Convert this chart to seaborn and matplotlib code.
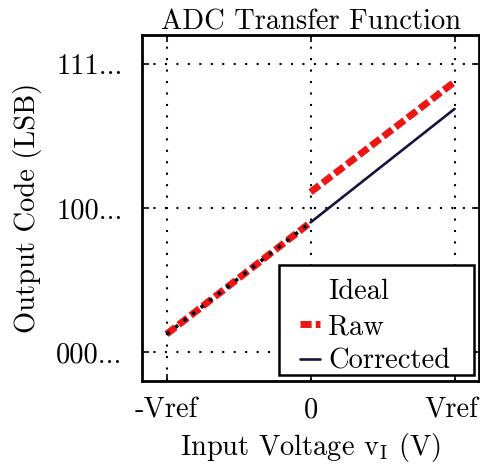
import matplotlib
matplotlib.use("Agg")
import matplotlib.pyplot as plt
import matplotlib.transforms as mtransforms
from matplotlib.patches import Rectangle
import seaborn as sns
import pandas as pd

# ---- data (normalised units: x in Vref, y in half-scale codes) ----
x_ticks = [-1, 0, 1]
x_ticklabels = ["-Vref", "0", "Vref"]
y_ticks = [-1, 0, 1]
y_ticklabels = ["000...", "100...", "111..."]

ideal_x = [-1, 0]        # visible part of the ideal line (right half lies under Corrected)
ideal_y = [-0.875, -0.10]
raw_neg_x = [-1, 0]
raw_neg_y = [-0.875, -0.10]
raw_pos_x = [0, 1]
raw_pos_y = [0.11, 0.875]
corr_x = [0, 1]          # corrected output (left half coincides with raw)
corr_y = [-0.10, 0.6875]

sns.set_theme(style="white")
plt.rcParams["font.family"] = ["cmr10", "DejaVu Serif"]
plt.rcParams["mathtext.fontset"] = "cm"
plt.rcParams["axes.formatter.use_mathtext"] = True
plt.rcParams["text.color"] = "black"
plt.rcParams["axes.labelcolor"] = "black"
plt.rcParams["xtick.color"] = "black"
plt.rcParams["ytick.color"] = "black"

FS = 20.5

fig = plt.figure(figsize=(4.8, 4.73), dpi=100)
ax = fig.add_axes([0.296, 0.1945, 0.702, 0.7315])

sns.lineplot(x=ideal_x, y=ideal_y, ax=ax, color="black", linestyle=(0, (1, 2)),
             linewidth=2.6, label="Ideal", zorder=5)
sns.lineplot(x=raw_neg_x, y=raw_neg_y, ax=ax, color="#ee1515", linestyle=(0, (1.6, 0.6)),
             linewidth=5, label="Raw", zorder=3)
sns.lineplot(x=raw_pos_x, y=raw_pos_y, ax=ax, color="#ee1515", linestyle=(0, (1.6, 0.6)),
             linewidth=5, zorder=3)
sns.lineplot(x=corr_x, y=corr_y, ax=ax, color="#14143f", linewidth=1.9,
             label="Corrected", zorder=6)

ax.set_xlim(-1.17, 1.17)
ax.set_ylim(-1.2, 1.2)
ax.set_xticks(x_ticks)
ax.set_xticklabels(x_ticklabels)
ax.set_yticks(y_ticks)
ax.set_yticklabels(y_ticklabels)
ax.tick_params(direction="in", length=5, width=1.2, color="black", labelsize=FS,
               labelcolor="black", top=True, right=True, bottom=True, left=True, pad=12)
ax.tick_params(axis="y", pad=14)
ax.grid(True, color="black", linestyle=(0, (1, 4.5)), linewidth=1.5)
for s in ax.spines.values():
    s.set_color("black")
    s.set_linewidth(2)

# nudge the right-most x tick label slightly left so it stays inside the figure
last = ax.get_xticklabels()[-1]
last.set_transform(last.get_transform() +
                   mtransforms.ScaledTranslation(-3 / 100, 0, fig.dpi_scale_trans))

ax.set_title("ADC Transfer Function", fontsize=FS, pad=4, color="black")
ax.set_xlabel(r"Input Voltage $\mathrm{v}_\mathrm{I}$ (V)", fontsize=FS, labelpad=5,
              color="black")
ax.set_ylabel("Output Code (LSB)", fontsize=FS, labelpad=10, color="black")

# legend frame drawn as a box in axes coordinates
ax.add_patch(Rectangle((0.405, 0.017), 0.58, 0.317, transform=ax.transAxes,
                       facecolor="white", edgecolor="black", linewidth=1.8,
                       zorder=9, clip_on=False))
handles, labels = ax.get_legend_handles_labels()
leg = ax.legend(handles, labels, loc="upper left", bbox_to_anchor=(0.47, 0.295),
                fontsize=FS, frameon=False, handlelength=0.7, handletextpad=0.28,
                labelspacing=0.3, borderpad=0, borderaxespad=0)
leg.legend_handles[0].set_visible(False)
for t in leg.get_texts():
    t.set_color("black")
leg.set_zorder(10)

fig.savefig("out.png", dpi=100)
